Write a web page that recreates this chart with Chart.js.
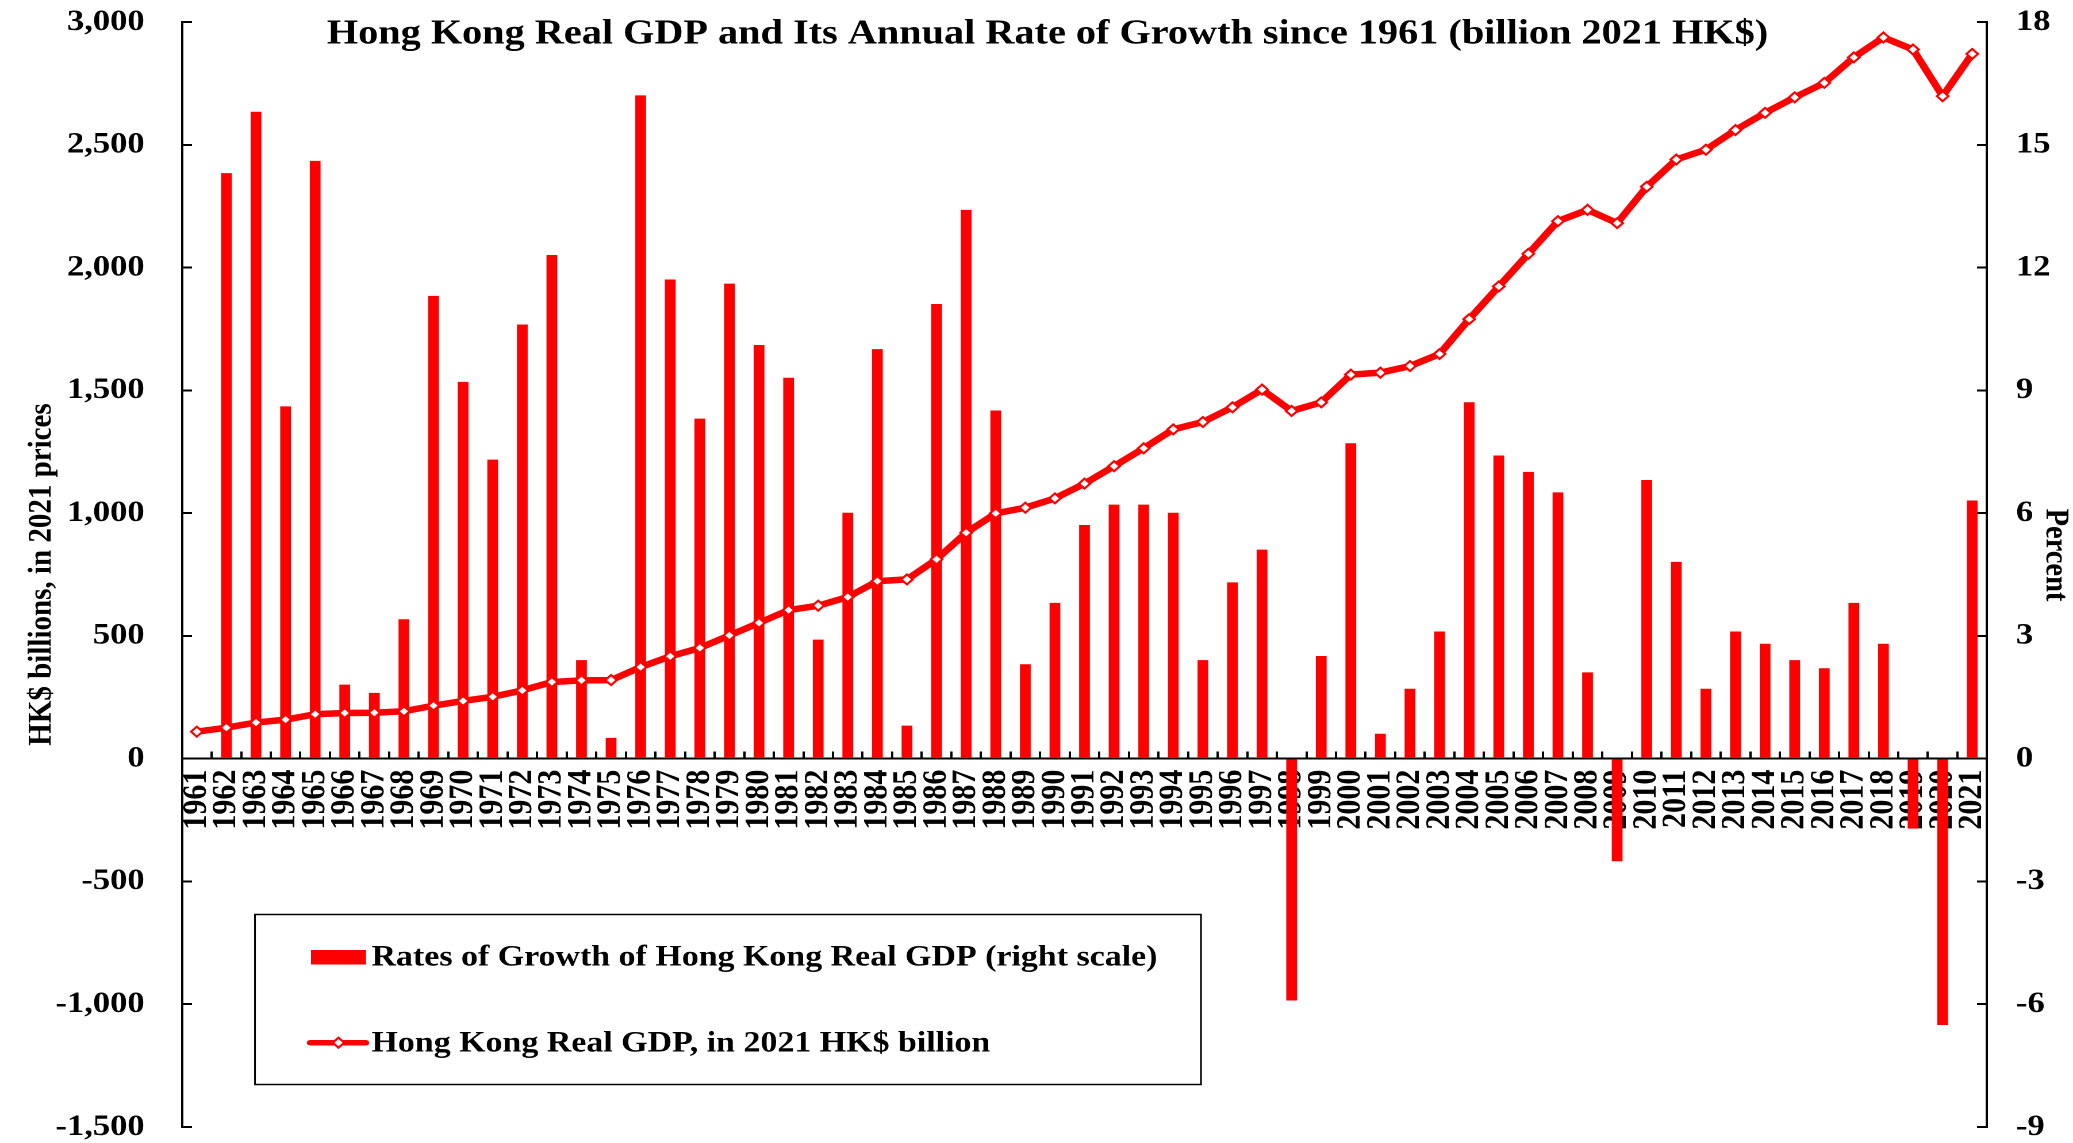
<!DOCTYPE html>
<html>
<head>
<meta charset="utf-8">
<script src="https://cdn.jsdelivr.net/npm/chart.js@4.4.1/dist/chart.umd.min.js"></script>
<style>
  html, body { margin: 0; padding: 0; background: #ffffff; overflow: hidden; }
</style>
</head>
<body>
<canvas id="c" width="1803" height="1143" style="display:block;width:2073px;height:1143px"></canvas>
<script>
// ---------------- data ----------------
const years = ['1961','1962','1963','1964','1965','1966','1967','1968','1969','1970',
  '1971','1972','1973','1974','1975','1976','1977','1978','1979','1980',
  '1981','1982','1983','1984','1985','1986','1987','1988','1989','1990',
  '1991','1992','1993','1994','1995','1996','1997','1998','1999','2000',
  '2001','2002','2003','2004','2005','2006','2007','2008','2009','2010',
  '2011','2012','2013','2014','2015','2016','2017','2018','2019','2020','2021'];

// annual rate of growth, percent (right scale)
const growthRate = [null, 14.3, 15.8, 8.6, 14.6, 1.8, 1.6, 3.4, 11.3, 9.2,
  7.3, 10.6, 12.3, 2.4, 0.5, 16.2, 11.7, 8.3, 11.6, 10.1,
  9.3, 2.9, 6.0, 10.0, 0.8, 11.1, 13.4, 8.5, 2.3, 3.8,
  5.7, 6.2, 6.2, 6.0, 2.4, 4.3, 5.1, -5.9, 2.5, 7.7,
  0.6, 1.7, 3.1, 8.7, 7.4, 7.0, 6.5, 2.1, -2.5, 6.8,
  4.8, 1.7, 3.1, 2.8, 2.4, 2.2, 3.8, 2.8, -1.7, -6.5, 6.3];

// real GDP, billion 2021 HK$ (left scale)
const realGDP = [110, 126, 147, 159, 181, 186, 187, 193, 216, 235,
  252, 278, 312, 319, 320, 373, 417, 451, 502, 553,
  605, 623, 658, 723, 730, 812, 920, 999, 1022, 1060,
  1120, 1191, 1264, 1341, 1371, 1431, 1503, 1416, 1451, 1564,
  1572, 1599, 1648, 1790, 1923, 2056, 2189, 2235, 2181, 2329,
  2440, 2480, 2560, 2630, 2693, 2752, 2856, 2937, 2888, 2698, 2870];

const leftTicks = { min: -1500, max: 3000, step: 500 };
const rightTicks = { min: -9, max: 18, step: 3 };

const chartTitle = 'Hong Kong Real GDP and Its Annual Rate of Growth since 1961 (billion 2021 HK$)';
const barLabel = 'Rates of Growth of Hong Kong Real GDP (right scale)';
const lineLabel = 'Hong Kong Real GDP, in 2021 HK$ billion';
const leftTitle = 'HK$ billions, in 2021 prices';
const rightTitle = 'Percent';

// ---------------- layout helpers ----------------
const CW = 1803;                // canvas logical width (displayed stretched to 2073)
const S = 2073 / CW;            // horizontal stretch factor
const X = v => v / S;           // screen-x -> canvas-x
const FAM = '"Liberation Serif", "Times New Roman", serif';
const RED = '#ff0000';

const overlay = {
  id: 'overlay',
  afterDraw(chart) {
    const ctx = chart.ctx;
    ctx.save();
    // title (inside plot area)
    ctx.fillStyle = '#000';
    ctx.font = 'bold 35px ' + FAM;
    ctx.textAlign = 'center';
    ctx.textBaseline = 'alphabetic';
    ctx.fillText(chartTitle, X(1047.5), 43.5);

    // right axis title
    ctx.save();
    ctx.translate(X(2055), 555);
    ctx.rotate(Math.PI / 2);
    ctx.font = 'bold 28.5px ' + FAM;
    ctx.textAlign = 'center';
    ctx.textBaseline = 'middle';
    ctx.fillText(rightTitle, 0, 0);
    ctx.restore();

    // legend box
    ctx.strokeStyle = '#000';
    ctx.lineWidth = 1.5;
    ctx.strokeRect(X(255), 914.5, X(1201) - X(255), 170);

    const dsBar = chart.data.datasets[0];
    const dsLine = chart.data.datasets[1];
    // bar swatch
    ctx.fillStyle = dsBar.backgroundColor;
    ctx.fillRect(X(311), 950, X(366) - X(311), 14.5);
    // line swatch
    ctx.strokeStyle = dsLine.borderColor;
    ctx.lineWidth = 5.5;
    ctx.lineCap = 'round';
    ctx.beginPath();
    ctx.moveTo(X(310), 1042.7);
    ctx.lineTo(X(366), 1042.7);
    ctx.stroke();
    // diamond marker
    const cx = X(338.5), cy = 1042.7, r = 5;
    ctx.beginPath();
    ctx.moveTo(cx - r, cy); ctx.lineTo(cx, cy - r); ctx.lineTo(cx + r, cy); ctx.lineTo(cx, cy + r);
    ctx.closePath();
    ctx.fillStyle = '#fff';
    ctx.fill();
    ctx.lineWidth = 2;
    ctx.lineCap = 'butt';
    ctx.stroke();

    // legend texts
    ctx.fillStyle = '#000';
    ctx.font = 'bold 29.5px ' + FAM;
    ctx.textAlign = 'left';
    ctx.fillText(dsBar.label, X(371.5), 965.5);
    ctx.fillText(dsLine.label, X(371.5), 1051.5);
    ctx.restore();
  }
};

const tickFont = { family: FAM, size: 30, weight: 'bold', lineHeight: 1 };

new Chart(document.getElementById('c'), {
  type: 'bar',
  data: {
    labels: years,
    datasets: [
      {
        type: 'bar',
        label: barLabel,
        data: growthRate,
        yAxisID: 'y1',
        backgroundColor: RED,
        borderWidth: 0,
        barThickness: 10 / S,
        order: 2
      },
      {
        type: 'line',
        label: lineLabel,
        data: realGDP,
        yAxisID: 'y',
        borderColor: RED,
        borderWidth: 6.5,
        tension: 0,
        pointStyle: 'rectRot',
        pointRadius: 5,
        pointBackgroundColor: '#ffffff',
        pointBorderColor: RED,
        pointBorderWidth: 2,
        order: 1
      }
    ]
  },
  options: {
    responsive: false,
    devicePixelRatio: 2,
    animation: false,
    events: [],
    layout: { padding: { top: 22, bottom: 16, left: 0, right: 0 } },
    plugins: {
      legend: { display: false },
      title: { display: false },
      tooltip: { enabled: false }
    },
    scales: {
      x: {
        type: 'category',
        position: { y: 0 },
        offset: true,
        grid: { display: true, offset: true, drawOnChartArea: false, drawTicks: true,
                tickLength: -8, color: '#000', lineWidth: 2 },
        border: { display: true, color: '#000', width: 2 },
        ticks: { autoSkip: false, minRotation: 90, maxRotation: 90, padding: 19,
                 color: '#000', font: tickFont },
        afterFit: s => { s.paddingLeft = 0; s.paddingRight = 0; }
      },
      y: {
        position: 'left',
        min: leftTicks.min,
        max: leftTicks.max,
        ticks: { stepSize: leftTicks.step, padding: 41.3, color: '#000', font: tickFont,
                 callback: v => Number(v).toLocaleString('en-US') },
        grid: { drawOnChartArea: false, drawTicks: true, tickLength: -8.7, color: '#000', lineWidth: 2 },
        border: { display: true, color: '#000', width: 2 },
        title: { display: true, text: leftTitle, color: '#000',
                 font: { family: FAM, size: 29, weight: 'bold', lineHeight: 1 },
                 padding: { top: 22, bottom: 0 } },
        afterFit: s => { s.width = X(182); s.paddingTop = 0; s.paddingBottom = 0; }
      },
      y1: {
        position: 'right',
        min: rightTicks.min,
        max: rightTicks.max,
        ticks: { stepSize: rightTicks.step, padding: 33.9, color: '#000', font: tickFont },
        grid: { drawOnChartArea: false, drawTicks: true, tickLength: -8.7, color: '#000', lineWidth: 2 },
        border: { display: true, color: '#000', width: 2 },
        title: { display: false },
        afterFit: s => { s.width = CW - X(1987); s.paddingTop = 0; s.paddingBottom = 0; }
      }
    }
  },
  plugins: [overlay]
});
</script>
</body>
</html>
